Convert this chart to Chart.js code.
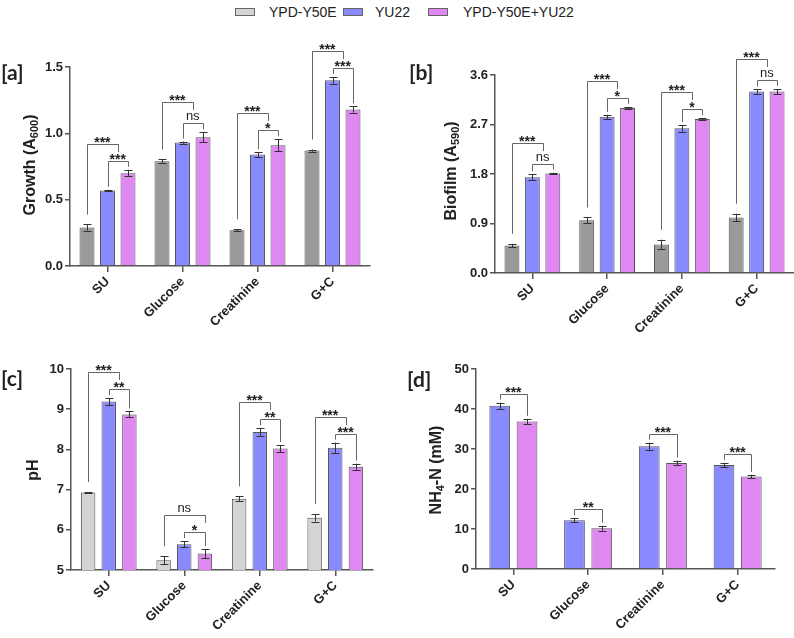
<!DOCTYPE html>
<html>
<head>
<meta charset="utf-8">
<script src="https://cdn.jsdelivr.net/npm/chart.js@4.4.1/dist/chart.umd.min.js"></script>
<style>
body{margin:0;background:#fff;width:794px;height:638px;position:relative;overflow:hidden;font-family:"Liberation Sans",Arial,sans-serif;color:#222}
canvas{position:absolute}
.tag{position:absolute;font-family:Lato,sans-serif;font-weight:700;font-size:21px;line-height:21px;color:#222}
.lg{position:absolute;top:5px;font-size:14px;line-height:14px;color:#222}
.box{position:absolute;top:8px;width:18px;height:6px;border:1px solid #666}
.ytitle{position:absolute;font-weight:700;font-size:16px;line-height:16px;white-space:nowrap;color:#222;
        transform:translate(-50%,-50%) rotate(-90deg)}
.ytitle sub{font-size:11px;vertical-align:-3px;line-height:0}
</style>
</head>
<body>
<div class="box" style="left:235px;background:#d4d4d4"></div><div class="lg" style="left:269px">YPD-Y50E</div>
<div class="box" style="left:343px;background:#8a8aff"></div><div class="lg" style="left:375px">YU22</div>
<div class="box" style="left:428px;background:#df88f2"></div><div class="lg" style="left:463px">YPD-Y50E+YU22</div>

<canvas id="pa" width="385" height="310" style="left:0;top:30px"></canvas>
<canvas id="pb" width="369" height="310" style="left:425px;top:30px"></canvas>
<canvas id="pc" width="385" height="308" style="left:0;top:330px"></canvas>
<canvas id="pd" width="388" height="308" style="left:406px;top:330px"></canvas>

<div class="tag" style="left:1px;top:61px">[a]</div>
<div class="tag" style="left:409px;top:61px">[b]</div>
<div class="tag" style="left:1px;top:367px">[c]</div>
<div class="tag" style="left:407px;top:368px">[d]</div>

<div class="ytitle" style="left:30px;top:165px">Growth (A<sub>600</sub>)</div>
<div class="ytitle" style="left:451px;top:171px">Biofilm (A<sub>590</sub>)</div>
<div class="ytitle" style="left:33px;top:470px">pH</div>
<div class="ytitle" style="left:436px;top:470px">NH<sub>4</sub>-N (mM)</div>

<script>
// ---------- data ----------
const categories = ["SU", "Glucose", "Creatinine", "G+C"];
const seriesNames = ["YPD-Y50E", "YU22", "YPD-Y50E+YU22"];

// [a] growth
const growthY50E = [0.29, 0.79, 0.27, 0.87];
const growthYU22 = [0.57, 0.93, 0.84, 1.40];
const growthMix  = [0.70, 0.97, 0.91, 1.18];
const growthErrY50E = [0.023, 0.013, 0.007, 0.008];
const growthErrYU22 = [0.005, 0.008, 0.018, 0.025];
const growthErrMix  = [0.025, 0.038, 0.045, 0.023];
const growthTicks = [0, 0.5, 1.0, 1.5];
const growthSigOuter = ["***", "***", "***", "***"];
const growthSigInner = ["***", "ns", "*", "***"];

// [b] biofilm
const biofilmY50E = [0.50, 0.96, 0.52, 1.01];
const biofilmYU22 = [1.74, 2.84, 2.63, 3.30];
const biofilmMix  = [1.81, 3.00, 2.80, 3.30];
const biofilmErrY50E = [0.03, 0.05, 0.085, 0.067];
const biofilmErrYU22 = [0.055, 0.036, 0.06, 0.04];
const biofilmErrMix  = [0.015, 0.02, 0.015, 0.045];
const biofilmTicks = [0, 0.9, 1.8, 2.7, 3.6];
const biofilmSigOuter = ["***", "***", "***", "***"];
const biofilmSigInner = ["ns", "*", "*", "ns"];

// [c] pH
const phY50E = [6.93, 5.24, 6.77, 6.30];
const phYU22 = [9.19, 5.64, 8.43, 8.04];
const phMix  = [8.87, 5.41, 8.02, 7.57];
const phErrY50E = [0.01, 0.10, 0.06, 0.095];
const phErrYU22 = [0.09, 0.08, 0.10, 0.13];
const phErrMix  = [0.075, 0.11, 0.09, 0.075];
const phTicks = [5, 6, 7, 8, 9, 10];
const phSigOuter = ["***", "ns", "***", "***"];
const phSigInner = ["**", "*", "**", "***"];
const phOuterTo = [1.5, 2, 1.5, 1.5];   // which bar the outer bracket ends on (1.5 = between YU22 and mix)

// [d] NH4-N
const nhYU22 = [40.8, 12.2, 30.7, 26.0];
const nhMix  = [36.9, 10.2, 26.5, 23.1];
const nhErrYU22 = [0.8, 0.5, 0.9, 0.55];
const nhErrMix  = [0.65, 0.6, 0.6, 0.45];
const nhTicks = [0, 10, 20, 30, 40, 50];
const nhSig = ["***", "**", "***", "***"];

// ---------- look ----------
Chart.defaults.font.family = "'Liberation Sans', Arial, sans-serif";
const GRAY_DARK = "#9a9a9a", GRAY_LIGHT = "#d4d4d4", BLUE = "#8a8aff", PINK = "#df88f2";
const AXIS = "#555";

function drawLabel(ctx, x, y, label){
  ctx.textAlign = "center";
  ctx.textBaseline = "alphabetic";
  ctx.fillStyle = "#222";
  if(label === "ns"){
    ctx.font = "13px 'Liberation Sans', Arial";
    ctx.fillText(label, x, y - 3);
  } else {
    ctx.font = "bold 14px 'Liberation Sans', Arial";
    ctx.fillText(label, x, y + 3);
  }
}

function bracket(ctx, x1, y1, x2, y2, yl, label){
  ctx.beginPath();
  ctx.moveTo(Math.round(x1) + .5, y1);
  ctx.lineTo(Math.round(x1) + .5, yl + .5);
  ctx.lineTo(Math.round(x2) + .5, yl + .5);
  ctx.lineTo(Math.round(x2) + .5, y2);
  ctx.stroke();
  drawLabel(ctx, (x1 + x2) / 2, yl, label);
}

// error bars + significance brackets
function annotPlugin(errs, sigOuter, sigInner, outerTo){
  return {
    id: "annot",
    afterDatasetsDraw(chart){
      const ctx = chart.ctx, ys = chart.scales.y;
      const tops = [];
      ctx.save();
      ctx.strokeStyle = "#333";
      ctx.lineWidth = 1;
      chart.data.datasets.forEach((ds, d) => {
        tops.push([]);
        chart.getDatasetMeta(d).data.forEach((bar, i) => {
          const hi = ys.getPixelForValue(ds.data[i] + errs[d][i]);
          const lo = ys.getPixelForValue(ds.data[i] - errs[d][i]);
          const x = Math.round(bar.x) + .5;
          ctx.beginPath();
          ctx.moveTo(x, hi); ctx.lineTo(x, lo);
          ctx.moveTo(x - 4, Math.round(hi) + .5); ctx.lineTo(x + 4, Math.round(hi) + .5);
          ctx.moveTo(x - 4, Math.round(lo) + .5); ctx.lineTo(x + 4, Math.round(lo) + .5);
          ctx.stroke();
          tops[d].push({x: bar.x, y: hi});
        });
      });

      ctx.strokeStyle = "#666";
      categories.forEach((c, i) => {
        if(tops.length === 3){
          const g = tops[0][i], b = tops[1][i], p = tops[2][i];
          const inY = Math.round(Math.min(b.y, p.y) - 9);
          bracket(ctx, b.x, b.y - 3, p.x, p.y - 3, inY, sigInner[i]);
          const outY = inY - (sigInner[i] === "ns" ? 21 : 17);
          const t = outerTo ? outerTo[i] : 1.5;
          const rx = b.x + (t - 1) * (p.x - b.x);
          bracket(ctx, g.x, g.y - 10, rx, outY + 8, outY, sigOuter[i]);
        } else {
          const b = tops[0][i], p = tops[1][i];
          const yl = Math.round(Math.min(b.y, p.y) - 9);
          bracket(ctx, b.x, b.y - 3, p.x, p.y - 3, yl, sigOuter[i]);
        }
      });
      ctx.restore();
    }
  };
}

function makePanel(id, cfg){
  const datasets = cfg.series.map(s => ({
    label: s.label,
    data: s.data,
    backgroundColor: s.color,
    borderColor: AXIS,
    borderWidth: 1,
    borderSkipped: "bottom",
    categoryPercentage: cfg.cp,
    barPercentage: cfg.bp
  }));
  const errs = cfg.series.map(s => s.err);
  return new Chart(document.getElementById(id), {
    type: "bar",
    data: { labels: categories, datasets },
    plugins: [annotPlugin(errs, cfg.sigOuter, cfg.sigInner, cfg.outerTo)],
    options: {
      responsive: false,
      animation: false,
      devicePixelRatio: 1,
      layout: { padding: { top: cfg.padTop, right: cfg.padRight, left: 0, bottom: 0 } },
      plugins: { legend: { display: false }, tooltip: { enabled: false } },
      scales: {
        x: {
          grid: { offset: false, drawOnChartArea: false, color: AXIS, lineWidth: 1.5, tickLength: 6 },
          border: { color: AXIS, width: 1.5 },
          ticks: { maxRotation: 45, minRotation: 45, color: "#222", font: { size: 13, weight: "bold" }, padding: 2 },
          afterFit(s){ s.height = cfg.xHeight; }
        },
        y: {
          min: cfg.ticks[0],
          max: cfg.ticks[cfg.ticks.length - 1],
          afterBuildTicks(s){ s.ticks = cfg.ticks.map(v => ({ value: v })); },
          grid: { drawOnChartArea: false, color: AXIS, lineWidth: 1.5, tickLength: 5 },
          border: { color: AXIS, width: 1.5 },
          ticks: { color: "#222", font: { size: 13, weight: "bold" }, padding: 2,
                   callback: v => Number(v).toFixed(cfg.decimals) },
          afterFit(s){ s.width = cfg.yWidth; }
        }
      }
    }
  });
}

makePanel("pa", {
  series: [
    { label: seriesNames[0], data: growthY50E, err: growthErrY50E, color: GRAY_DARK },
    { label: seriesNames[1], data: growthYU22, err: growthErrYU22, color: BLUE },
    { label: seriesNames[2], data: growthMix,  err: growthErrMix,  color: PINK }
  ],
  ticks: growthTicks, decimals: 1,
  sigOuter: growthSigOuter, sigInner: growthSigInner,
  cp: 0.82, bp: 0.73, padTop: 37, padRight: 15, xHeight: 74, yWidth: 70
});

makePanel("pb", {
  series: [
    { label: seriesNames[0], data: biofilmY50E, err: biofilmErrY50E, color: GRAY_DARK },
    { label: seriesNames[1], data: biofilmYU22, err: biofilmErrYU22, color: BLUE },
    { label: seriesNames[2], data: biofilmMix,  err: biofilmErrMix,  color: PINK }
  ],
  ticks: biofilmTicks, decimals: 1,
  sigOuter: biofilmSigOuter, sigInner: biofilmSigInner,
  cp: 0.82, bp: 0.73, padTop: 45, padRight: 0, xHeight: 67, yWidth: 70
});

makePanel("pc", {
  series: [
    { label: seriesNames[0], data: phY50E, err: phErrY50E, color: GRAY_LIGHT },
    { label: seriesNames[1], data: phYU22, err: phErrYU22, color: BLUE },
    { label: seriesNames[2], data: phMix,  err: phErrMix,  color: PINK }
  ],
  ticks: phTicks, decimals: 0,
  sigOuter: phSigOuter, sigInner: phSigInner, outerTo: phOuterTo,
  cp: 0.82, bp: 0.70, padTop: 39, padRight: 12, xHeight: 68, yWidth: 71
});

makePanel("pd", {
  series: [
    { label: seriesNames[1], data: nhYU22, err: nhErrYU22, color: BLUE },
    { label: seriesNames[2], data: nhMix,  err: nhErrMix,  color: PINK }
  ],
  ticks: nhTicks, decimals: 0,
  sigOuter: nhSig,
  cp: 0.73, bp: 0.76, padTop: 39, padRight: 19, xHeight: 69, yWidth: 70
});
</script>
</body>
</html>
